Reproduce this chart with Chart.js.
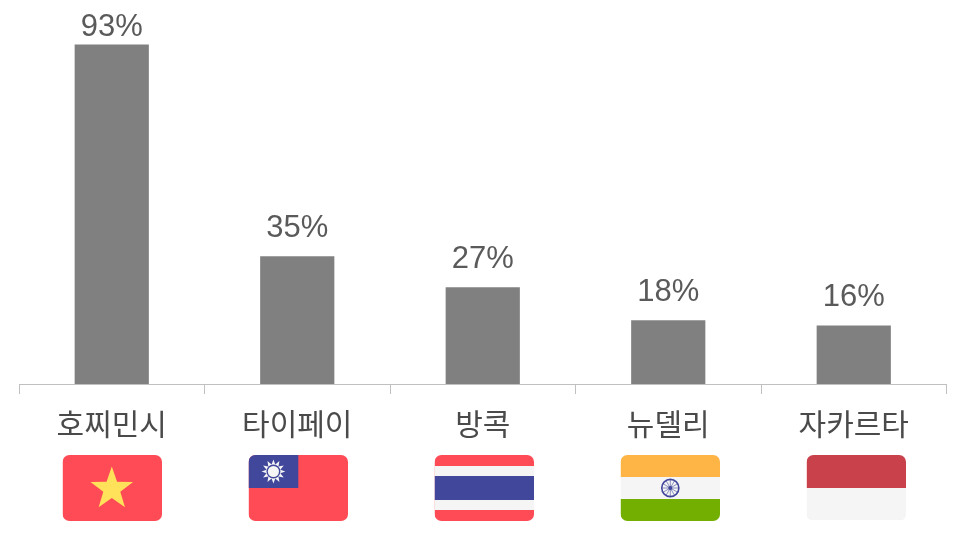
<!DOCTYPE html>
<html><head><meta charset="utf-8">
<script src="https://cdn.jsdelivr.net/npm/chart.js@4"></script>
<style>html,body{margin:0;padding:0;background:#fff}canvas{display:block}</style>
</head><body><canvas id="c" width="966" height="538"></canvas>
<script>
const categories = ['호찌민시','타이페이','방콕','뉴델리','자카르타'];
const values = [93, 35, 26.5, 17.5, 16];
const valueLabels = ['93%','35%','27%','18%','16%'];
const flags = ['vn','tw','th','in','id'];

const RED='#ff4b55', BLUE='#41479b', WHITE='#f5f5f5', YEL='#ffe15a', ORG='#ffb446', GRN='#73af00', IDR='#c8414b';
function star(g,cx,cy,R,r){g.beginPath();for(let i=0;i<10;i++){const a=-Math.PI/2+i*Math.PI/5,q=i%2?r:R;g.lineTo(cx+q*Math.cos(a),cy+q*Math.sin(a));}g.closePath();g.fill();}
const painters={
 vn(g){g.fillStyle=RED;g.fillRect(0,0,100,66);g.fillStyle=YEL;star(g,49.5,34,22.5,9);},
 tw(g){g.fillStyle=RED;g.fillRect(0,0,100,66);g.fillStyle=BLUE;g.fillRect(0,0,50,33);
   g.fillStyle='#f5f5f5';star2(g,25,16.5,12,7.2,12);g.fillStyle=BLUE;g.beginPath();g.arc(25,16.5,7,0,7);g.fill();g.fillStyle='#f5f5f5';g.beginPath();g.arc(25,16.5,5.6,0,7);g.fill();},
 th(g){g.fillStyle=RED;g.fillRect(0,0,100,66);g.fillStyle=WHITE;g.fillRect(0,11,100,44);g.fillStyle=BLUE;g.fillRect(0,21,100,24);},
 in(g){g.fillStyle=ORG;g.fillRect(0,0,100,22);g.fillStyle=WHITE;g.fillRect(0,22,100,22);g.fillStyle=GRN;g.fillRect(0,44,100,22);
   g.strokeStyle=BLUE;g.lineWidth=1.6;g.beginPath();g.arc(50,33,8.6,0,7);g.stroke();g.lineWidth=.6;
   for(let i=0;i<12;i++){const a=i*Math.PI/6;g.beginPath();g.moveTo(50,33);g.lineTo(50+8*Math.cos(a),33+8*Math.sin(a));g.stroke();}
   g.fillStyle=BLUE;g.beginPath();g.arc(50,33,2,0,7);g.fill();},
 id(g){g.fillStyle=IDR;g.fillRect(0,0,100,33);g.fillStyle=WHITE;g.fillRect(0,33,100,32);}
};
function star2(g,cx,cy,R,r,n){g.beginPath();for(let i=0;i<2*n;i++){const a=-Math.PI/2+i*Math.PI/n,q=i%2?r:R;g.lineTo(cx+q*Math.cos(a),cy+q*Math.sin(a));}g.closePath();g.fill();}

const decorations={id:'decorations',afterDraw(chart){
  const g=chart.ctx, xs=chart.scales.x, bars=chart.getDatasetMeta(0).data;
  g.save();
  g.font='31px "Liberation Sans"'; g.fillStyle='#5a5a5a'; g.textAlign='center'; g.textBaseline='middle';
  bars.forEach((b,i)=>{g.fillText(valueLabels[i],b.x,Math.max(27,b.y-28));});
  flags.forEach((f,i)=>{
    const cx=xs.getPixelForValue(i)+0.8+i*0.5, left=cx-50, top=455;
    g.save();g.translate(left,top);g.scale(0.995,1);g.beginPath();g.roundRect(0,0,100,66,7);g.clip();painters[f](g);g.restore();
  });
  g.restore();
}};

new Chart(document.getElementById('c'),{
  type:'bar',
  data:{labels:categories,datasets:[{data:values,backgroundColor:'#808080',borderWidth:0,categoryPercentage:0.4,barPercentage:1}]},
  plugins:[decorations],
  options:{
    responsive:false,animation:false,devicePixelRatio:1,
    layout:{padding:{left:19,right:19.5,top:19,bottom:0}},
    plugins:{legend:{display:false},tooltip:{enabled:false}},
    scales:{
      y:{display:false,min:0,max:100},
      x:{
        afterFit(s){s.height=154;},
        border:{color:'#c0c0c0',width:1},
        grid:{display:true,drawOnChartArea:false,drawTicks:true,tickLength:10,color:'#c0c0c0',offset:true},
        ticks:{color:'#4a4a4a',font:{family:'"Noto Sans CJK KR"',size:30,weight:'400'},padding:12,maxRotation:0,autoSkip:false}
      }
    }
  }
});
</script></body></html>
